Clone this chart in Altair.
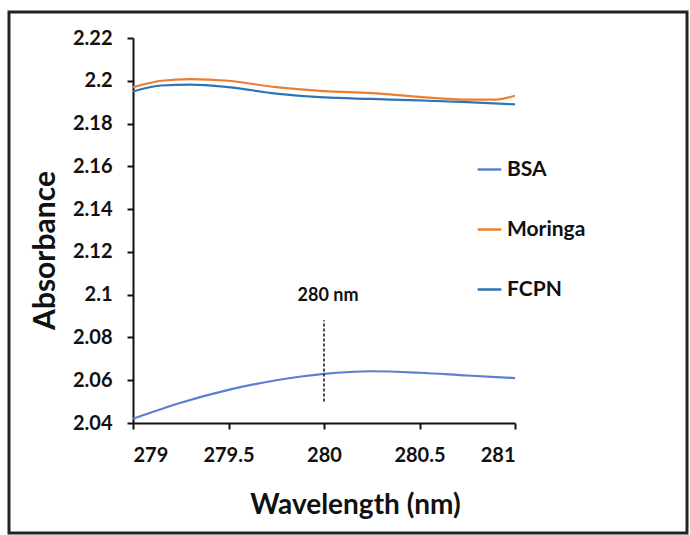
import altair as alt
import pandas as pd

wl_bsa = [279.0, 279.25, 279.5, 279.75, 280.0, 280.25, 280.5, 280.75, 281.0]
bsa = [2.042, 2.0495, 2.0555, 2.0600, 2.0630, 2.0642, 2.0635, 2.0622, 2.0610]

wl_mor = [279.0, 279.15, 279.3, 279.5, 279.75, 280.0, 280.25, 280.5, 280.75, 280.9, 281.0]
moringa = [2.1970, 2.2000, 2.2008, 2.2000, 2.1970, 2.1952, 2.1942, 2.1925, 2.1912, 2.1912, 2.1930]

wl_fcpn = [279.0, 279.15, 279.3, 279.5, 279.75, 280.0, 280.25, 280.5, 280.75, 281.0]
fcpn = [2.1950, 2.1978, 2.1982, 2.1970, 2.1940, 2.1922, 2.1915, 2.1908, 2.1900, 2.1890]

series = ["BSA", "Moringa", "FCPN"]
colors = ["#5b7fd0", "#ed7d31", "#2e75b6"]

marker_x = [280.0, 280.0]
marker_y = [2.050, 2.088]
marker_label = "280 nm"
marker_label_y = 2.095

rows = []
for name, xs, ys in [("BSA", wl_bsa, bsa), ("Moringa", wl_mor, moringa), ("FCPN", wl_fcpn, fcpn)]:
    for i, (x, y) in enumerate(zip(xs, ys)):
        rows.append({"Wavelength": x, "Absorbance": y, "Series": name, "order": i})
df = pd.DataFrame(rows)

FONT = "Lato"

x_scale = alt.Scale(domain=[279, 281], nice=False, zero=False)
y_scale = alt.Scale(domain=[2.04, 2.22], nice=False, zero=False)

lines = alt.Chart(df).mark_line(strokeWidth=2.2, interpolate="monotone").encode(
    x=alt.X("Wavelength:Q", scale=x_scale,
            axis=alt.Axis(values=[279, 279.5, 280, 280.5, 281], format="~g",
                          title="Wavelength (nm)", grid=False, titleX=222)),
    y=alt.Y("Absorbance:Q", scale=y_scale,
            axis=alt.Axis(values=[2.04, 2.06, 2.08, 2.1, 2.12, 2.14, 2.16, 2.18, 2.2, 2.22],
                          format="~g", title="Absorbance", grid=False, titleY=212)),
    color=alt.Color("Series:N", scale=alt.Scale(domain=series, range=colors),
                    legend=alt.Legend(title=None, orient="none", legendX=343, legendY=118,
                                      symbolType="stroke", symbolSize=560, symbolStrokeWidth=2.5,
                                      labelFont=FONT, labelFontSize=21, labelFontWeight="bold",
                                      labelColor="#111", rowPadding=36, labelOffset=4)),
    order="order:Q",
)

mdf = pd.DataFrame({"x": marker_x, "y": marker_y})
marker = alt.Chart(mdf).mark_line(color="#111", strokeWidth=1.5, strokeDash=[3, 2]).encode(
    x=alt.X("x:Q", scale=x_scale), y=alt.Y("y:Q", scale=y_scale)
)
ldf = pd.DataFrame({"x": [marker_x[0]], "y": [marker_label_y], "t": [marker_label]})
label = alt.Chart(ldf).mark_text(font=FONT, fontSize=18, fontWeight="bold", color="#111",
                                 baseline="bottom", dx=4).encode(
    x=alt.X("x:Q", scale=x_scale), y=alt.Y("y:Q", scale=y_scale), text="t:N"
)

frame = alt.Chart(pd.DataFrame({"a": [0]})).mark_rect(
    fill=None, stroke="#222", strokeWidth=3, clip=False
).encode(x=alt.value(-124), x2=alt.value(554), y=alt.value(-26), y2=alt.value(495))

chart = alt.layer(frame, lines, marker, label).properties(
    width=382, height=385,
    autosize=alt.AutoSizeParams(type="none"),
    padding={"left": 133, "top": 38, "right": 175, "bottom": 112},
).configure_view(stroke=None).configure_axis(
    domainColor="#111", domainWidth=2, tickColor="#111", tickWidth=2, tickSize=6,
    labelFont=FONT, labelFontSize=20, labelFontWeight="bold", labelColor="#111",
    titleFont=FONT, titleFontSize=30, titleFontWeight="bold", titleColor="#111",
).configure_axisY(labelPadding=15, titlePadding=12).configure_axisX(
    labelPadding=16, titlePadding=26, titleFontSize=28
)

chart.save("out.html", embed_options={"renderer": "svg", "actions": False})
